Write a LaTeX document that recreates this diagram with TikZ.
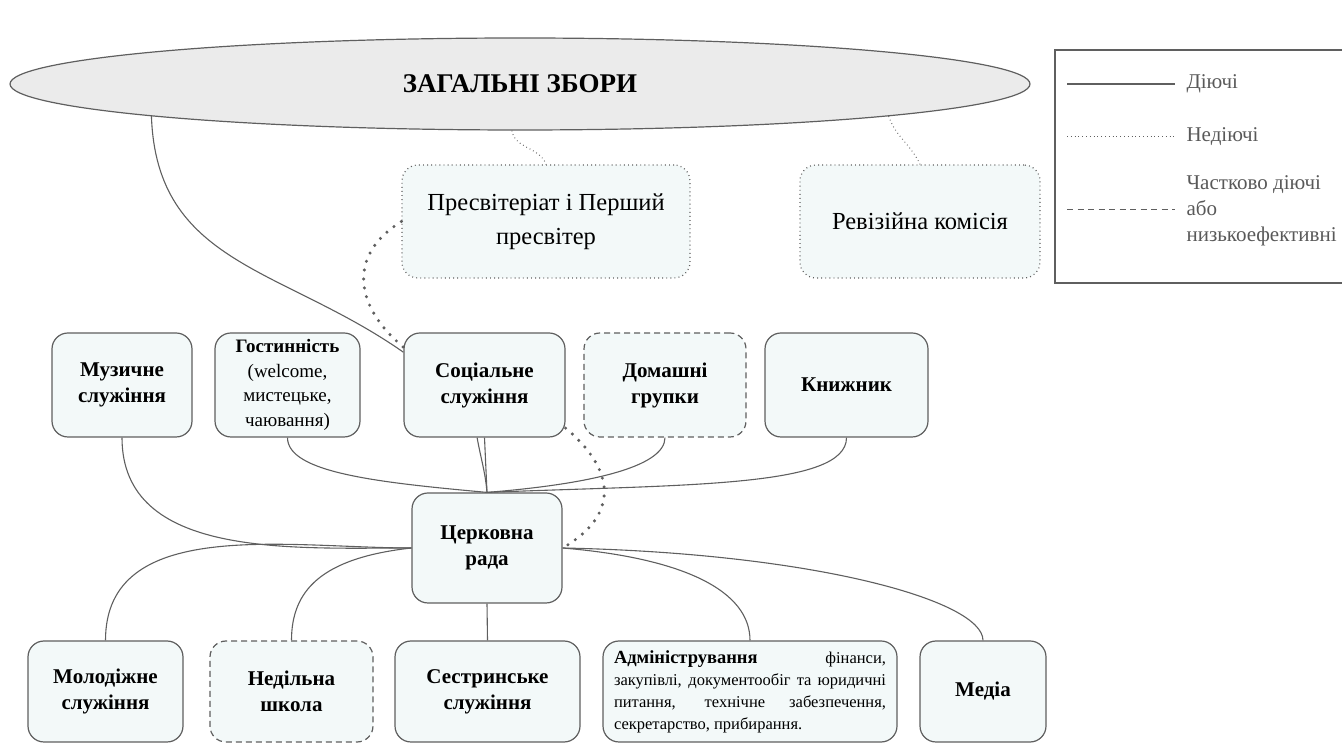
\documentclass[tikz,border=0pt]{standalone}
\usepackage{fontspec}
\setmainfont{Liberation Serif}[BoldFont={Liberation Serif Bold}]
\usetikzlibrary{shapes.geometric}
\definecolor{boxfill}{HTML}{F3F9F9}
\definecolor{edge}{HTML}{5F5F5F}
\definecolor{zborfill}{HTML}{EBEBEB}
\definecolor{legendtext}{HTML}{595959}
\tikzset{
  unit/.style={draw=edge, line width=1.2pt, fill=boxfill, rounded corners=16pt,
    align=center, inner sep=4pt, font=\fontsize{21}{26}\selectfont\bfseries},
  active/.style={unit},
  inactive/.style={unit, dash pattern=on 0.9pt off 3.2pt},
  partial/.style={unit, dash pattern=on 6pt off 4pt},
  link/.style={draw=edge, line width=1.1pt},
  nolink/.style={draw=edge, line width=1pt, dash pattern=on 0.8pt off 3pt},
  bigdots/.style={draw=edge, line width=3.4pt, line cap=round, dash pattern=on 0pt off 9pt},
  legendlabel/.style={anchor=west, align=left, text=legendtext, font=\fontsize{21}{26}\selectfont}
}
\newcommand{\adminhead}{\fontsize{18.5}{22}\selectfont\bfseries}

\begin{document}
\begin{tikzpicture}[x=1pt, y=1pt]
            \useasboundingbox (0,0) rectangle (1342,744);

            \node [draw=edge, line width=1.2pt, fill=zborfill, ellipse, minimum width=1020pt, minimum height=92pt,
                   inner sep=0pt, font=\fontsize{27}{32}\selectfont\bfseries] (Z) at (520,660) {ЗАГАЛЬНІ ЗБОРИ};
            \node [inactive, font=\fontsize{24.5}{34}\selectfont, minimum width=288pt, minimum height=113pt] (P)
                   at (546,522.5) {Пресвітеріат і Перший\\пресвітер};
            \node [inactive, font=\fontsize{24.5}{34}\selectfont, minimum width=240pt, minimum height=113pt] (R)
                   at (920,522.5) {Ревізійна комісія};

            \node [draw=edge, line width=1.2pt, minimum width=307pt, minimum height=233pt] (L) at (1208.5,577.5) {};
            \draw [link] (1067,660) -- (1175,660);
            \node [legendlabel] (L1) at (1183,660) {Діючі};
            \draw [nolink] (1067,607) -- (1175,607);
            \node [legendlabel] (L2) at (1183,607) {Недіючі};
            \draw [draw=edge, line width=1pt, dash pattern=on 6pt off 4.5pt] (1067,534) -- (1175,534);
            \node [legendlabel] (L3) at (1183,533) {Частково діючі\\або\\низькоефективні};

            \node [active, minimum width=140pt, minimum height=104pt] (S1) at (122,359) {Музичне\\служіння};
            \node [active, font=\fontsize{19}{24.5}\selectfont, minimum width=145pt, minimum height=104pt] (S2)
                   at (287.5,359) {\textbf{Гостинність}\\(welcome,\\мистецьке,\\чаювання)};
            \node [active, minimum width=161pt, minimum height=104pt] (S3) at (484.5,359) {Соціальне\\служіння};
            \node [partial, minimum width=162pt, minimum height=104pt] (S4) at (665,359) {Домашні\\групки};
            \node [active, minimum width=163pt, minimum height=104pt] (S5) at (846.5,359) {Книжник};

            \node [active, minimum width=150pt, minimum height=110pt] (C) at (487,196) {Церковна\\рада};

            \node [active, minimum width=155pt, minimum height=101pt] (B1) at (105.5,52.5) {Молодіжне\\служіння};
            \node [partial, minimum width=163pt, minimum height=101pt] (B2) at (291.5,52.5) {Недільна\\школа};
            \node [active, minimum width=185pt, minimum height=101pt] (B3) at (487.5,52.5) {Сестринське\\служіння};
            \node [active, font=\fontsize{16.5}{22}\selectfont, align=justify, text width=272pt,
                   minimum width=294pt, minimum height=101pt] (B4) at (750,52.5)
                   {\textbf{\adminhead Адміністрування} фінанси, закупівлі, документообіг та юридичні
                    питання, технічне забезпечення, секретарство, прибирання.};
            \node [active, minimum width=126pt, minimum height=101pt] (B5) at (983,52.5) {Медіа};

            \draw [link] (Z.185) to[out=-88, in=145, looseness=1.1] (S3.158);
            \draw [nolink] (Z.260) to[out=-80, in=110] (P.north);
            \draw [nolink] (Z.355) to[out=-70, in=115] (R.north);
            \draw [bigdots] (P.west) to[out=212, in=140, looseness=1.3] (S3.155);
            \draw [bigdots] (S3.332) to[out=-40, in=30, looseness=1.4] (C.east);

            \draw [link] (S1.south) to[out=-90, in=180] (C.west);
            \draw [link] (S2.south) .. controls +(0,-35) and +(-110,10) .. (C.north);
            \draw [link] (S3.south) -- (C.north);
            \draw [link] (S3.-98) to[out=-80, in=95] (C.north);
            \draw [link] (S4.south) .. controls +(0,-30) and +(100,8) .. (C.north);
            \draw [link] (S5.south) .. controls +(0,-50) and +(200,8) .. (C.north);

            \draw [link] (C.west) to[out=180, in=90] (B1.north);
            \draw [link] (C.west) .. controls +(-90,-10) and +(0,50) .. (B2.north);
            \draw [link] (C.south) -- (B3.north);
            \draw [link] (C.east) .. controls +(120,-10) and +(0,50) .. (B4.north);
            \draw [link] (C.east) .. controls +(250,-5) and +(0,40) .. (B5.north);
\end{tikzpicture}
\end{document}
